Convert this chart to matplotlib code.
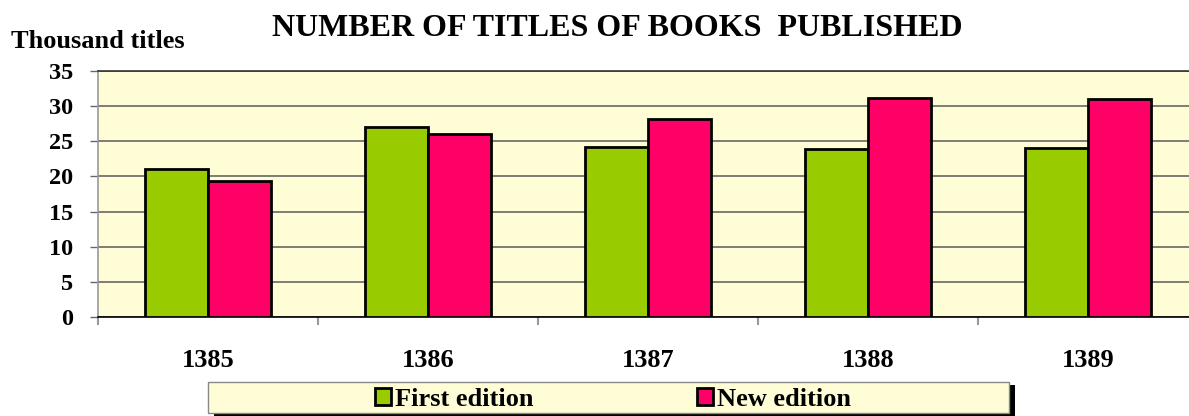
import matplotlib
matplotlib.use("Agg")
import matplotlib.pyplot as plt
from matplotlib.patches import Patch, Rectangle
import numpy as np

years = ["1385", "1386", "1387", "1388", "1389"]
first_edition = [21.0, 27.0, 24.2, 23.9, 24.0]
new_edition = [19.3, 26.0, 28.1, 31.2, 31.0]
series_names = ["First edition", "New edition"]
yticks = [0, 5, 10, 15, 20, 25, 30, 35]

plt.rcParams['font.family'] = ['Liberation Serif', 'DejaVu Serif']
plt.rcParams['font.weight'] = 'bold'

W, H = 1189, 416
fig = plt.figure(figsize=(W / 100, H / 100), dpi=100)
ax = fig.add_axes([98 / W, (H - 317) / H, 1100 / W, 246 / H])

bg = '#FFFDD5'
green = '#99CC00'
pink = '#FF0066'
ax.set_facecolor(bg)

x = np.arange(len(years))
bw = 0.286
ax.bar(x - bw / 2, first_edition, bw, color=green, edgecolor='black', linewidth=2.0, zorder=3)
ax.bar(x + bw / 2, new_edition, bw, color=pink, edgecolor='black', linewidth=2.0, zorder=3)

ax.set_xlim(-0.5, len(years) - 0.5)
ax.set_ylim(0, 35)
ax.set_yticks(yticks)
ax.set_yticklabels([str(v) for v in yticks], fontsize=17.5, fontweight='bold')
ax.yaxis.grid(True, color='#5a5a5a', linewidth=1.1, zorder=1)
ax.set_axisbelow(True)

ax.set_xticks(x)
ax.set_xticklabels(years, fontsize=19, fontweight='bold')
ax.tick_params(axis='x', which='major', length=0, pad=23)
ax.set_xticks(np.arange(-0.5, len(years), 1.0), minor=True)
ax.tick_params(axis='x', which='minor', length=6, color='#999999', width=1.5, direction='out')
ax.tick_params(axis='y', length=6, color='#666666', width=1.0, pad=12, direction='out')

ax.spines['right'].set_visible(False)
ax.spines['top'].set_color('#333333')
ax.spines['top'].set_linewidth(1.2)
ax.spines['left'].set_color('#999999')
ax.spines['left'].set_linewidth(1.2)
ax.spines['bottom'].set_color('black')
ax.spines['bottom'].set_linewidth(1.2)

fig.text(617 / W, 1 - 28 / H, "NUMBER OF TITLES OF BOOKS  PUBLISHED", ha='center', va='center',
         fontsize=23, fontweight='bold')
fig.text(11 / W, 1 - 41 / H, "Thousand titles", ha='left', va='center',
         fontsize=19, fontweight='bold')

# legend box with shadow
fig.patches.append(Rectangle((214 / W, (H - 416) / H), 801 / W, 31 / H, transform=fig.transFigure,
                             facecolor='black', edgecolor='none', zorder=1))
fig.patches.append(Rectangle((208 / W, (H - 413) / H), 801 / W, 31 / H, transform=fig.transFigure,
                             facecolor=bg, edgecolor='#888888', linewidth=1.0, zorder=2))

handles = [Patch(facecolor=green, edgecolor='black', linewidth=2.0),
           Patch(facecolor=pink, edgecolor='black', linewidth=2.0)]
leg = fig.legend(handles, series_names, loc='center', bbox_to_anchor=(613 / W, 1 - 399 / H),
                 ncol=2, frameon=False, prop={'size': 19, 'weight': 'bold'},
                 handlelength=0.6, handleheight=0.6, handletextpad=0.15, columnspacing=6.2,
                 borderpad=0)
leg.set_zorder(5)

fig.savefig("out.png", dpi=100)
